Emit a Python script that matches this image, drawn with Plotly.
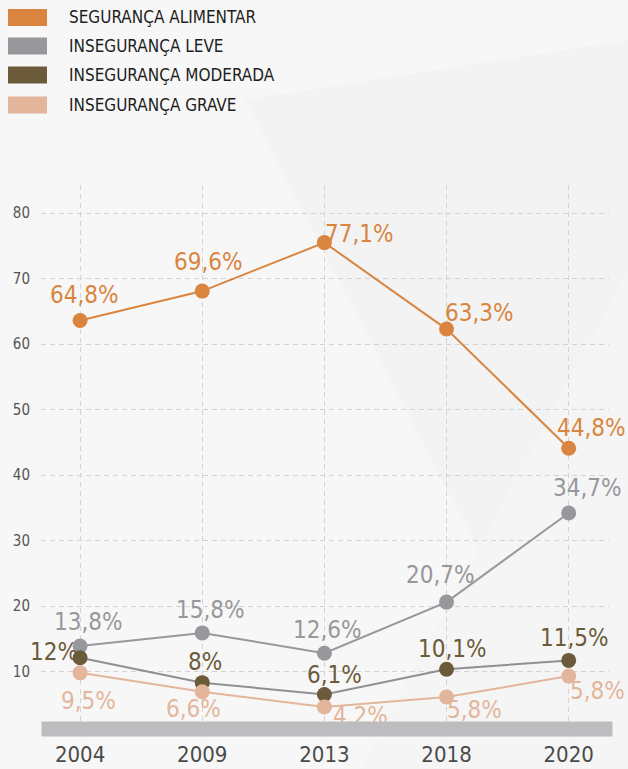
import plotly.graph_objects as go

# Data
years = ["2004", "2009", "2013", "2018", "2020"]

seguranca = [63.6, 68.1, 75.5, 62.3, 44.1]
leve = [13.9, 15.9, 12.8, 20.6, 34.2]
moderada = [12.1, 8.3, 6.5, 10.35, 11.7]
grave = [9.8, 6.9, 4.6, 6.1, 9.3]

seguranca_txt = ["64,8%", "69,6%", "77,1%", "63,3%", "44,8%"]
leve_txt = ["13,8%", "15,8%", "12,6%", "20,7%", "34,7%"]
moderada_txt = ["12%", "8%", "6,1%", "10,1%", "11,5%"]
grave_txt = ["9,5%", "6,6%", "4,2%", "5,8%", "5,8%"]

names = ["SEGURANÇA ALIMENTAR", "INSEGURANÇA LEVE", "INSEGURANÇA MODERADA", "INSEGURANÇA GRAVE"]

# styles
FONT = "Liberation Sans Narrow, Arial Narrow, DejaVu Sans Condensed, sans-serif"
marker_colors = ["#d9853f", "#97979c", "#6b5b3a", "#e3b69b"]
line_colors = ["#d9853f", "#97979c", "#8f8f94", "#e3b69b"]
label_colors = ["#d9853f", "#97979c", "#6b5b3a", "#e3b69b"]

# label offsets (dx, dy) in pixels relative to each marker
offsets = [
    [(4, 26), (6, 29), (35, 9), (33, 16), (23, 20)],
    [(8, 24), (8, 23), (3, 23), (-6, 27), (19, 25)],
    [(-26, 6), (3, 21), (10, 19), (6, 20), (6, 22)],
    [(8, -28), (-9, -17), (36, -9), (28, -13), (29, -15)],
]

W, H = 628, 769
L, R, T, B = 41, 19, 185, 32


def px(x):
    return (x - L) / (W - L - R)


def py(y):
    return (H - B - y) / (H - T - B)


values = [seguranca, leve, moderada, grave]
texts = [seguranca_txt, leve_txt, moderada_txt, grave_txt]

fig = go.Figure()

for i in range(4):
    fig.add_trace(go.Scatter(
        x=years, y=values[i], mode="lines+markers", name=names[i],
        line=dict(color=line_colors[i], width=2),
        marker=dict(color=marker_colors[i], size=15),
        showlegend=False, hoverinfo="skip",
    ))

annotations = []
for i in range(4):
    for j in range(len(years)):
        dx, dy = offsets[i][j]
        # category axes take the serial index of the category
        annotations.append(dict(
            x=j, y=values[i][j], xref="x", yref="y", text=texts[i][j],
            showarrow=False, xshift=dx, yshift=dy,
            xanchor="center", yanchor="middle",
            font=dict(family=FONT, size=24, color=label_colors[i]),
        ))

# grey band along the bottom, drawn on top of the labels
annotations.append(dict(
    x=0, y=0, xref="paper", yref="paper", xanchor="left", yanchor="bottom",
    text=" ", showarrow=False, width=570, height=14, borderpad=0,
    bgcolor="#bdbdbf", font=dict(size=1),
))

# manual legend
shapes = []
legend_rows = [17.5, 46, 75, 105]
for i, yc in enumerate(legend_rows):
    shapes.append(dict(
        type="rect", xref="paper", yref="paper",
        x0=px(8), x1=px(47), y0=py(yc + 8.5), y1=py(yc - 8.5),
        fillcolor=marker_colors[i], line=dict(width=0),
    ))
    annotations.append(dict(
        x=px(67), y=py(yc), xref="paper", yref="paper", text=names[i],
        showarrow=False, xanchor="left", yanchor="middle",
        font=dict(family=FONT, size=17, color="#1e1e1e"),
    ))


# subtle background facets
def poly(points):
    p = " L ".join(f"{px(x):.4f},{py(y):.4f}" for x, y in points)
    return "M " + p + " Z"


shapes.append(dict(
    type="path", xref="paper", yref="paper", layer="below",
    path=poly([(245, 100), (628, 40), (628, 769), (592, 769)]),
    fillcolor="#f3f3f3", line=dict(width=0),
))
shapes.append(dict(
    type="path", xref="paper", yref="paper", layer="below",
    path=poly([(628, 270), (628, 769), (360, 769)]),
    fillcolor="#f5f5f5", line=dict(width=0),
))

fig.update_layout(
    width=W, height=H,
    margin=dict(l=L, r=R, t=T, b=B),
    paper_bgcolor="#f7f7f7",
    plot_bgcolor="rgba(0,0,0,0)",
    showlegend=False,
    annotations=annotations,
    shapes=shapes,
    font=dict(family=FONT),
    xaxis=dict(
        type="category", range=[-0.32, 4.33],
        showgrid=True, gridcolor="#d3d3d3", griddash="5px,4px", gridwidth=1,
        zeroline=False, showline=False, ticks="",
        tickfont=dict(family=FONT, size=22, color="#4a4a4a"),
        ticklabelstandoff=2, automargin=False,
    ),
    yaxis=dict(
        range=[0, 84.3], tickvals=[10, 20, 30, 40, 50, 60, 70, 80],
        showgrid=True, gridcolor="#d3d3d3", griddash="5px,4px", gridwidth=1,
        zeroline=False, showline=False, ticks="",
        tickfont=dict(family=FONT, size=15, color="#555555"),
        ticklabelstandoff=10, automargin=False,
    ),
)

fig.write_html(
    "out.html",
    config={"displayModeBar": False},
    post_script="document.body.style.margin='0';document.body.style.overflow='hidden';",
)
